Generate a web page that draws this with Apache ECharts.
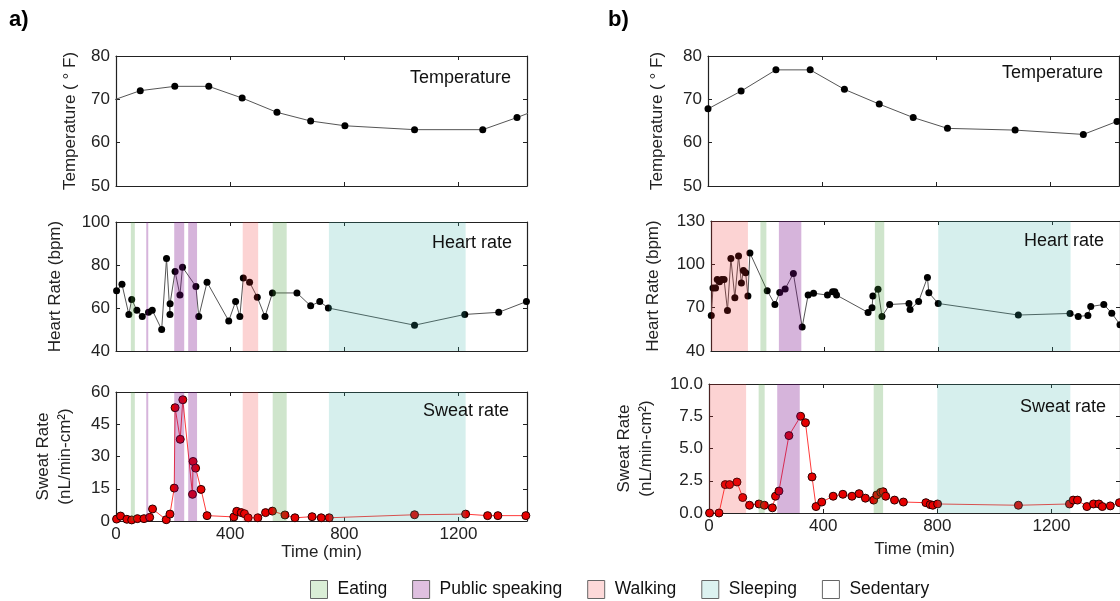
<!DOCTYPE html>
<html><head><meta charset="utf-8">
<script src="https://cdn.jsdelivr.net/npm/echarts@6/dist/echarts.min.js"></script>
<style>html,body{margin:0;padding:0;background:#fff}#c{width:1120px;height:601px}</style>
</head><body><div id="c"></div><script>
// ---------- Data: panel a ----------
const tempA_time = [-40, 85, 206, 325, 442, 564, 682, 802, 1046, 1285, 1405, 1480];
const tempA_val  = [69.1, 72, 73, 73, 70.3, 67, 65, 63.9, 63, 63, 65.8, 67.7];
const hrA_time = [2,21,45,55,73,92,114,127,160,177,189,189.5,207,224,233,280,290,319,395,419,434,446,468,495,522,548,634,682,714,744,1046,1222,1341,1438];
const hrA_val  = [68,71,57,64,59,56,58,59,50,83,57,62,77,66,79,70,56,72,54,63,56,74,72,65,56,67,67,61,63,60,52,57,58,63];
const sweatA_time = [2,16,38,55,75,98,118,128,176,189,204,207,225,234,268,270,279,298,319,413,423,439,450,463,497,524,548,592,627,687,719,747,1046,1225,1302,1338,1436];
const sweatA_val  = [0.9,2.3,0.8,0.5,1.1,1.1,1.7,5.6,0.6,3.2,15.3,52.7,38.0,56.4,12.4,27.7,24.6,14.7,2.5,1.9,4.5,3.9,3.4,1.5,1.5,3.9,4.6,2.8,1.5,2.0,1.5,1.5,2.9,3.2,2.5,2.5,2.5];
const eatingA   = [[52,66],[549,598]];
const speakingA = [[106,113],[204,239],[253,284]];
const walkingA  = [[444,498]];
const sleepingA = [[746,1225]];

// ---------- Data: panel b ----------
const tempB_time = [0,116,238,358,478,600,719,839,1076,1315,1433];
const tempB_val  = [67.8,71.9,76.8,76.8,72.3,68.9,65.8,63.3,62.9,61.9,64.9];
const hrB_time = [1,7,16,22,30,38,46,58,70,84,97,107,114,122,130,137,198,225,242,261,290,321,342,361,410,428,436,442,553,567,570,588,602,629,697,701,731,762,767,800,1082,1264,1293,1327,1337,1383,1411,1440];
const hrB_val  = [64.6,83.7,83.7,89.5,87.9,89.5,89.5,68.1,104,76.8,105.8,87,95.7,94.1,78,107.9,81.7,72.2,80.5,83,93.6,56.6,78.7,80,78.7,81,81,78.7,66.7,69.9,78,82.8,63.9,72.2,72.9,68.8,74.3,90.9,80.3,72.9,64.9,66,63.9,64.6,70.8,72.2,66.2,58.2];
const sweatB_time = [2,35,57,72,98,118,142,175,194,222,233,245,280,321,338,361,375,395,435,469,501,526,548,577,588,602,610,619,650,681,760,775,784,801,1084,1263,1276,1291,1324,1347,1366,1378,1406,1438];
const sweatB_val  = [0,0,2.2,2.2,2.4,1.2,0.6,0.7,0.6,0.4,1.3,1.7,6.0,7.5,7.0,2.8,0.5,0.85,1.3,1.45,1.3,1.5,1.15,1.0,1.4,1.6,1.65,1.3,1.0,0.85,0.8,0.65,0.6,0.7,0.6,0.7,1.0,1.0,0.5,0.7,0.7,0.5,0.55,0.8];
const eatingB   = [[174,195],[577,610]];
const speakingB = [[239,318]];
const walkingB  = [[0,130]];
const sleepingB = [[800,1266]];

// ---------- Tick settings ----------
const xTicks = [0, 1440, 400];
const yTicks = [[50,80,10],[40,100,20],[0,60,15],[50,80,10],[40,130,30],[0,10,2.5]];
const activityNames = ['Eating','Public speaking','Walking','Sleeping','Sedentary'];

// ---------- Styling ----------
const FONT = 'Liberation Sans, Arial, sans-serif';
const shadeColors = {
  'Eating': 'rgba(63,151,51,0.25)',
  'Public speaking': 'rgba(118,5,135,0.30)',
  'Walking': 'rgba(240,35,35,0.20)',
  'Sleeping': 'rgba(50,175,165,0.20)'
};
const legendColors = {
  'Eating': '#daeed6', 'Public speaking': '#dfc0e0', 'Walking': '#fdd9d9', 'Sleeping': '#dcf2f0', 'Sedentary': '#ffffff'
};

const grids = [
  {left:116, top:56,  width:411, height:130},
  {left:116, top:222, width:411, height:129},
  {left:116, top:392, width:411, height:129},
  {left:708, top:56,  width:411, height:130},
  {left:711, top:221, width:411, height:130},
  {left:709, top:384, width:411, height:129}
];
const yNames = ['Temperature ( \u00B0 F)', 'Heart Rate (bpm)', 'Sweat Rate\n(nL/min-cm\u00B2)',
                'Temperature ( \u00B0 F)', 'Heart Rate (bpm)', 'Sweat Rate\n(nL/min-cm\u00B2)'];
const yNameGaps = [35, 50, 40, 40, 47, 52];
const xNameGaps = [0, 0, 22, 0, 0, 28];

const axisLineStyle = {show:true, onZero:false, lineStyle:{color:'#222', width:1.2}};
const tickStyle = {show:true, inside:true, length:4, lineStyle:{color:'#222', width:1}};

const xAxes = [], yAxes = [];
grids.forEach((g, i) => {
  const isSweat = (i === 2 || i === 5);
  xAxes.push({
    gridIndex:i, type:'value', position:'bottom', min:xTicks[0], max:xTicks[1], interval:xTicks[2],
    axisLine:axisLineStyle, axisTick:tickStyle, splitLine:{show:false},
    axisLabel:{show:isSweat, showMaxLabel:false, fontSize:17, color:'#222', fontFamily:FONT, margin:5,
      formatter: v => String(v)},
    name: isSweat ? 'Time (min)' : '', nameLocation:'middle', nameGap:xNameGaps[i],
    nameTextStyle:{fontSize:17, color:'#222', fontFamily:FONT}
  });
  xAxes.push({
    gridIndex:i, type:'value', position:'top', min:xTicks[0], max:xTicks[1], interval:xTicks[2],
    axisLine:axisLineStyle, axisTick:tickStyle, splitLine:{show:false}, axisLabel:{show:false}
  });
  const yt = yTicks[i];
  yAxes.push({
    gridIndex:i, type:'value', position:'left', min:yt[0], max:yt[1], interval:yt[2],
    axisLine:axisLineStyle, axisTick:tickStyle, splitLine:{show:false},
    axisLabel:{fontSize:17, color:'#222', fontFamily:FONT, margin:6,
      formatter: (i === 5) ? (v => v.toFixed(1)) : (v => String(v))},
    name:yNames[i], nameLocation:'middle', nameRotate:90, nameGap:yNameGaps[i],
    nameTextStyle:{fontSize:17, color:'#222', fontFamily:FONT, lineHeight:22}
  });
  yAxes.push({
    gridIndex:i, type:'value', position:'right', min:yt[0], max:yt[1], interval:yt[2],
    axisLine:axisLineStyle, axisTick:tickStyle, splitLine:{show:false}, axisLabel:{show:false}
  });
});

function pairs(t, v){ return t.map((x, k) => [x, v[k]]); }

const series = [];
const dataSets = [
  [tempA_time, tempA_val, 'black'], [hrA_time, hrA_val, 'black'], [sweatA_time, sweatA_val, 'red'],
  [tempB_time, tempB_val, 'black'], [hrB_time, hrB_val, 'black'], [sweatB_time, sweatB_val, 'red']
];
dataSets.forEach((d, i) => {
  const red = d[2] === 'red';
  series.push({
    type:'line', xAxisIndex:2*i, yAxisIndex:2*i, data:pairs(d[0], d[1]), clip:true, z:2,
    symbol:'circle', symbolSize: red ? 8 : 7, showSymbol:true,
    lineStyle:{color: red ? '#ff3b3b' : '#555', width:1},
    itemStyle: red ? {color:'#e60000', borderColor:'#2a0000', borderWidth:1} : {color:'#000'},
    emphasis:{disabled:true}
  });
});

const actA = {'Eating':eatingA, 'Public speaking':speakingA, 'Walking':walkingA, 'Sleeping':sleepingA};
const actB = {'Eating':eatingB, 'Public speaking':speakingB, 'Walking':walkingB, 'Sleeping':sleepingB};
[0,1,2,3,4,5].forEach(i => {
  const acts = i < 3 ? actA : actB;
  if (i === 0 || i === 3) return; // no shading in temperature panels
  Object.keys(acts).forEach(name => {
    series.push({
      name:name, type:'line', xAxisIndex:2*i, yAxisIndex:2*i, data:[], color:legendColors[name],
      itemStyle:{color:legendColors[name]},
      markArea:{silent:true, z:3, itemStyle:{color:shadeColors[name]},
        data: acts[name].map(r => [{xAxis:r[0]}, {xAxis:r[1]}])}
    });
  });
});
series.push({name:'Sedentary', type:'line', xAxisIndex:0, yAxisIndex:0, data:[], color:'#fff', itemStyle:{color:'#fff'}});

const titleStyle = {fontSize:18, fontWeight:'normal', color:'#111', fontFamily:FONT};
const option = {
  animation:false,
  backgroundColor:'#fff',
  grid:grids,
  xAxis:xAxes,
  yAxis:yAxes,
  title:[
    {text:'a)', left:9, top:9, padding:0, textStyle:{fontSize:22, fontWeight:'bold', color:'#000', fontFamily:FONT}},
    {text:'b)', left:608, top:9, padding:0, textStyle:{fontSize:22, fontWeight:'bold', color:'#000', fontFamily:FONT}},
    {text:'Temperature', right:609, top:69, padding:0, textStyle:titleStyle},
    {text:'Heart rate', right:608, top:234, padding:0, textStyle:titleStyle},
    {text:'Sweat rate', right:611, top:402, padding:0, textStyle:titleStyle},
    {text:'Temperature', right:17, top:64, padding:0, textStyle:titleStyle},
    {text:'Heart rate', right:16, top:232, padding:0, textStyle:titleStyle},
    {text:'Sweat rate', right:14, top:398, padding:0, textStyle:titleStyle}
  ],
  legend:{
    data:activityNames, left:310, top:578, padding:[2,5,2,0], icon:'rect', itemWidth:17, itemHeight:18, itemGap:25,
    selectedMode:false,
    itemStyle:{borderColor:'#666', borderWidth:1},
    textStyle:{fontSize:17.5, color:'#111', fontFamily:FONT, padding:[0,0,0,5]}
  },
  series:series
};
const chart = echarts.init(document.getElementById('c'), null, {renderer:'canvas'});
chart.setOption(option);
</script></body></html>
